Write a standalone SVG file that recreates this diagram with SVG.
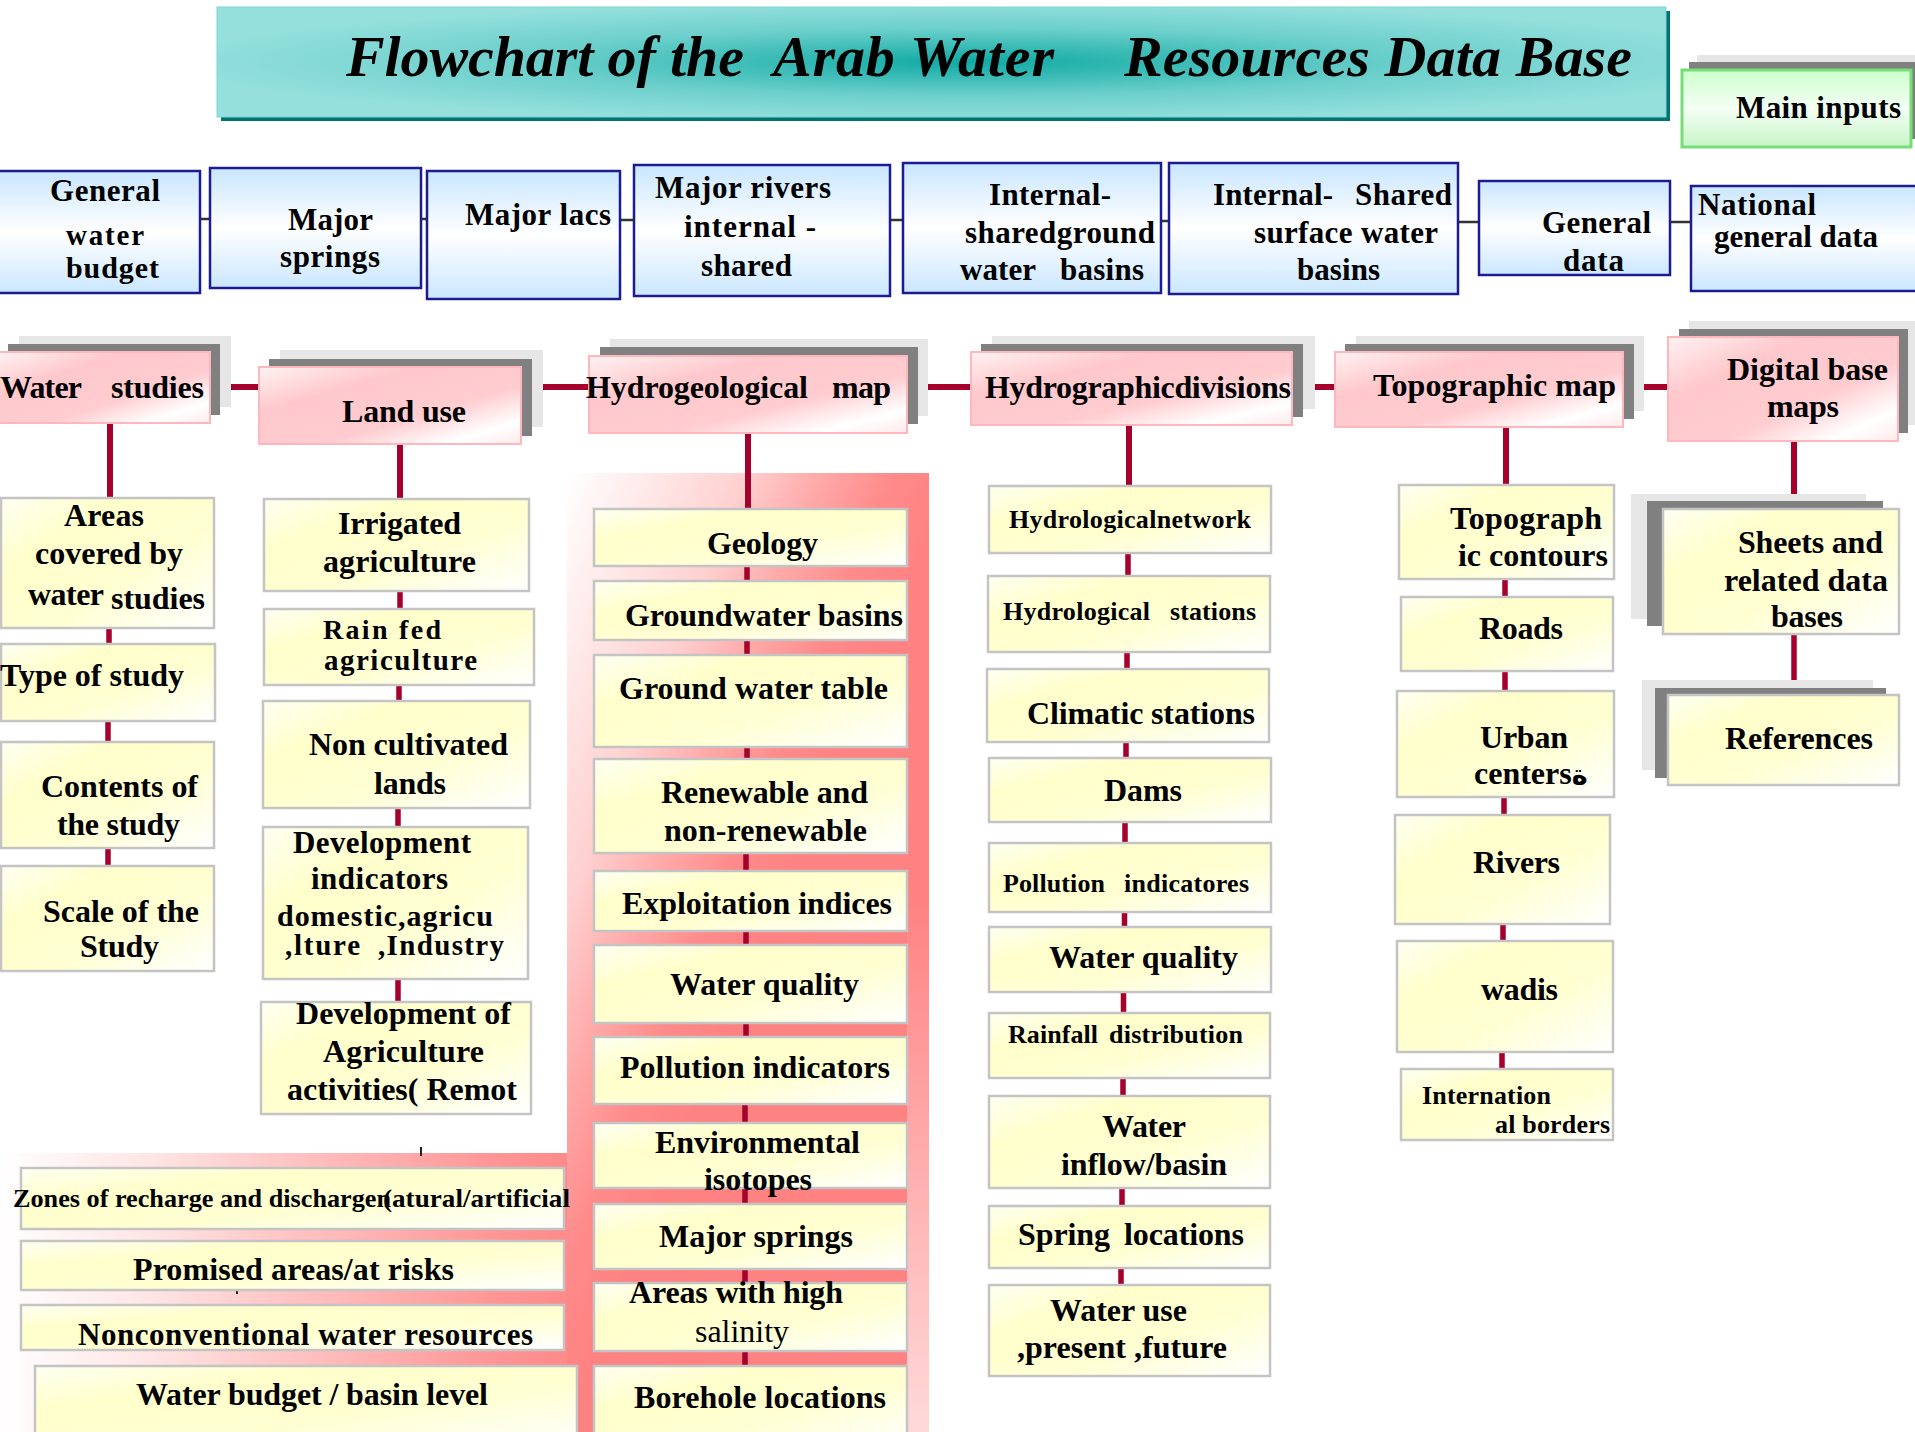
<svg xmlns="http://www.w3.org/2000/svg" width="1915" height="1432" viewBox="0 0 1915 1432">
<defs>
<radialGradient id="gTitle" cx="0.52" cy="0.5" r="0.55">
<stop offset="0" stop-color="#10aaa4"/><stop offset="0.55" stop-color="#6ccfcb"/><stop offset="1" stop-color="#95e0dd"/>
</radialGradient>
<linearGradient id="gBlue" x1="0" y1="0" x2="0" y2="1">
<stop offset="0" stop-color="#c9e6ff"/><stop offset="0.5" stop-color="#ffffff"/><stop offset="1" stop-color="#cbe7ff"/>
</linearGradient>
<linearGradient id="gGreen" x1="0" y1="0" x2="0" y2="1">
<stop offset="0" stop-color="#ccffcc"/><stop offset="0.5" stop-color="#f4fff4"/><stop offset="1" stop-color="#c8f5c8"/>
</linearGradient>
<linearGradient id="gPink" x1="0" y1="0" x2="1" y2="1">
<stop offset="0" stop-color="#fff2f3"/><stop offset="0.3" stop-color="#ffc8cc"/><stop offset="0.62" stop-color="#ffccd0"/><stop offset="0.85" stop-color="#ffffff"/><stop offset="1" stop-color="#ffeaec"/>
</linearGradient>
<linearGradient id="gYel" x1="0" y1="0" x2="1" y2="1">
<stop offset="0" stop-color="#fffff2"/><stop offset="0.28" stop-color="#ffffcc"/><stop offset="0.6" stop-color="#ffffd2"/><stop offset="1" stop-color="#ffffff"/>
</linearGradient>
<linearGradient id="gRegion" gradientUnits="userSpaceOnUse" x1="567" y1="473" x2="900" y2="610">
<stop offset="0" stop-color="#ffffff"/><stop offset="0.46" stop-color="#ffd0d0"/><stop offset="0.66" stop-color="#ffa8a8"/><stop offset="0.84" stop-color="#ff8a8a"/><stop offset="1" stop-color="#ff8282"/>
</linearGradient>
<linearGradient id="gBand" gradientUnits="userSpaceOnUse" x1="0" y1="0" x2="567" y2="0">
<stop offset="0" stop-color="#ffffff"/><stop offset="0.27" stop-color="#ffe4e4"/><stop offset="0.54" stop-color="#ffc0c0"/><stop offset="0.88" stop-color="#ff9494"/><stop offset="1" stop-color="#ff8a8a"/>
</linearGradient>
<linearGradient id="gFade" x1="0" y1="0" x2="0" y2="1">
<stop offset="0" stop-color="#ffffff" stop-opacity="0"/><stop offset="1" stop-color="#ffffff" stop-opacity="0.7"/>
</linearGradient>
</defs>
<style>
.lbl{font-family:"Liberation Serif","Times New Roman",serif;font-weight:bold;fill:#000;}
.reg{font-weight:normal;}
.ttl{font-family:"Liberation Serif","Times New Roman",serif;font-weight:bold;font-style:italic;font-size:58px;fill:#000;}
.blue{fill:url(#gBlue);stroke:#1c1c8e;stroke-width:2.5;}
.pink{fill:url(#gPink);stroke:#ffb6bc;stroke-width:2;}
.yel{fill:url(#gYel);stroke:#c4c4c4;stroke-width:2.5;}
.sd{fill:#808080;}
.sl{fill:#e6e6e6;}
.red{stroke:#a6002c;stroke-width:6;fill:none;}
.red2{stroke:#a6002c;stroke-width:5.5;fill:none;}
.gry{stroke:#333333;stroke-width:2.5;fill:none;}
.stub{stroke:#222222;stroke-width:2;fill:none;}
</style>
<rect x="0" y="0" width="1915" height="1432" fill="#ffffff"/>

<g id="title">
<rect x="221" y="11" width="1449" height="110" fill="#007373"/>
<rect x="217" y="7" width="1449" height="110" fill="url(#gTitle)" stroke="#7fd6d3" stroke-width="1"/>
<text class="ttl" x="346" y="76" textLength="398">Flowchart of the</text>
<text class="ttl" x="773" y="76" textLength="281">Arab Water</text>
<text class="ttl" x="1124" y="76" textLength="508">Resources Data Base</text>
</g>

<g id="background-regions">
<rect x="567" y="473" width="362" height="959" fill="url(#gRegion)"/>
<rect x="907" y="900" width="22" height="532" fill="url(#gFade)"/>
<rect x="0" y="1153" width="567" height="279" fill="url(#gBand)"/>
</g>

<g id="connectors">
<path class="gry" d="M200 219H210M421 219H427M620 220H634M890 220H903M1161 221H1169M1457 222H1479"/>
<path class="gry" d="M1670 222H1691" stroke="#111" stroke-width="3"/>
<path class="red" d="M231 387H259M543 387H589M928 387H971M1315 387H1335M1644 387H1668"/>
<path class="red" d="M110 423V498M400 444V499M748 433V509M1129 425V486M1506 427V485M1794 441V494"/>
<path class="red2" d="M109 628V644M108 721V742M108 848V866"/>
<path class="red2" d="M400 591V609M399 685V701M398 808V827M398 979V1002"/>
<path class="red2" d="M747 566V581M747 640V655M747 747V759M746 853V871M746 931V945M746 1023V1037M745 1104V1123M745 1188V1204M745 1269V1283M745 1351V1366"/>
<path class="red2" d="M1128 553V576M1127 652V669M1126 742V758M1125 822V843M1124.5 912V927M1123.5 992V1013M1123 1078V1096M1122 1188V1206M1121 1268V1285"/>
<path class="red2" d="M1505 579V597M1505 671V691M1504 797V815M1503 924V941M1502 1052V1069"/>
<path class="red2" d="M1794 634V680"/>
<path class="stub" d="M421 1147V1156M237 1289V1294M92 1337H101"/>
</g>

<g id="main-inputs">
<rect class="sl" x="1697" y="55" width="230" height="77"/>
<rect class="sd" x="1689" y="62" width="230" height="77"/>
<rect x="1682" y="70" width="229" height="77" fill="url(#gGreen)" stroke="#77dd77" stroke-width="3"/>
<text class="lbl" x="1736" y="118" font-size="31" textLength="165">Main inputs</text>
</g>

<g id="general-water-budget">
<rect class="blue" x="-3" y="171" width="203" height="122"/>
<text class="lbl" x="50" y="201" font-size="31" textLength="110">General</text>
<text class="lbl" x="66" y="245" font-size="29" textLength="78">water</text>
<text class="lbl" x="66" y="278" font-size="30" textLength="93">budget</text>
</g>
<g id="major-springs-top">
<rect class="blue" x="210" y="168" width="211" height="120"/>
<text class="lbl" x="288" y="230" font-size="31" textLength="85">Major</text>
<text class="lbl" x="280" y="267" font-size="31" textLength="100">springs</text>
</g>
<g id="major-lacs">
<rect class="blue" x="427" y="171" width="193" height="128"/>
<text class="lbl" x="465" y="225" font-size="31" textLength="146">Major lacs</text>
</g>
<g id="major-rivers">
<rect class="blue" x="634" y="165" width="256" height="131"/>
<text class="lbl" x="655" y="198" font-size="31" textLength="176">Major rivers</text>
<text class="lbl" x="684" y="237" font-size="31" textLength="132">internal -</text>
<text class="lbl" x="701" y="276" font-size="31" textLength="91">shared</text>
</g>
<g id="internal-shared-ground">
<rect class="blue" x="903" y="163" width="258" height="130"/>
<text class="lbl" x="989" y="205" font-size="31" textLength="122">Internal-</text>
<text class="lbl" x="965" y="243" font-size="31" textLength="190">sharedground</text>
<text class="lbl" x="960" y="280" font-size="31" textLength="76">water</text>
<text class="lbl" x="1060" y="280" font-size="31" textLength="84">basins</text>
</g>
<g id="internal-shared-surface">
<rect class="blue" x="1169" y="163" width="289" height="131"/>
<text class="lbl" x="1213" y="205" font-size="31" textLength="120">Internal-</text>
<text class="lbl" x="1355" y="205" font-size="31" textLength="97">Shared</text>
<text class="lbl" x="1254" y="243" font-size="31" textLength="184">surface water</text>
<text class="lbl" x="1297" y="280" font-size="31" textLength="83">basins</text>
</g>
<g id="general-data">
<rect class="blue" x="1479" y="181" width="191" height="94"/>
<text class="lbl" x="1542" y="233" font-size="31" textLength="109">General</text>
<text class="lbl" x="1563" y="271" font-size="31" textLength="61">data</text>
</g>
<g id="national-general-data">
<rect class="blue" x="1691" y="186" width="232" height="105" stroke="#222222"/>
<text class="lbl" x="1698" y="215" font-size="31" textLength="118">National</text>
<text class="lbl" x="1714" y="247" font-size="31" textLength="164">general data</text>
</g>

<g id="water-studies">
<rect class="sl" x="19" y="336" width="212" height="71"/>
<rect class="sd" x="8" y="344" width="212" height="71"/>
<rect class="pink" x="-2" y="352" width="212" height="71"/>
<text class="lbl" x="0" y="398" font-size="32" textLength="82">Water</text>
<text class="lbl" x="111" y="398" font-size="32" textLength="93">studies</text>
</g>
<g id="land-use">
<rect class="sl" x="280" y="350" width="263" height="77"/>
<rect class="sd" x="269" y="359" width="263" height="77"/>
<rect class="pink" x="259" y="367" width="262" height="77"/>
<text class="lbl" x="342" y="422" font-size="32" textLength="124">Land use</text>
</g>
<g id="hydrogeological-map">
<rect class="sl" x="610" y="339" width="318" height="77"/>
<rect class="sd" x="600" y="347" width="318" height="77"/>
<rect class="pink" x="589" y="356" width="318" height="77"/>
<text class="lbl" x="586" y="398" font-size="32" textLength="222">Hydrogeological</text>
<text class="lbl" x="832" y="398" font-size="32" textLength="59">map</text>
</g>
<g id="hydrographic-divisions">
<rect class="sl" x="992" y="336" width="323" height="73"/>
<rect class="sd" x="981" y="344" width="322" height="73"/>
<rect class="pink" x="971" y="352" width="321" height="73"/>
<text class="lbl" x="985" y="398" font-size="32" textLength="306">Hydrographicdivisions</text>
</g>
<g id="topographic-map">
<rect class="sl" x="1356" y="336" width="288" height="75"/>
<rect class="sd" x="1345" y="344" width="289" height="75"/>
<rect class="pink" x="1335" y="352" width="288" height="75"/>
<text class="lbl" x="1373" y="396" font-size="32" textLength="243">Topographic map</text>
</g>
<g id="digital-base-maps">
<rect class="sl" x="1689" y="321" width="232" height="104"/>
<rect class="sd" x="1679" y="329" width="229" height="104"/>
<rect class="pink" x="1668" y="337" width="230" height="104"/>
<text class="lbl" x="1727" y="380" font-size="32" textLength="161">Digital base</text>
<text class="lbl" x="1767" y="417" font-size="32" textLength="72">maps</text>
</g>

<g id="areas-covered">
<rect class="yel" x="1" y="498" width="213" height="130"/>
<text class="lbl" x="64" y="526" font-size="32" textLength="80">Areas</text>
<text class="lbl" x="35" y="564" font-size="32" textLength="148">covered by</text>
<text class="lbl" x="28" y="605" font-size="32" textLength="76">water</text>
<text class="lbl" x="111" y="609" font-size="32" textLength="94">studies</text>
</g>
<g id="type-of-study">
<rect class="yel" x="1" y="644" width="214" height="77"/>
<text class="lbl" x="0" y="686" font-size="32" textLength="184">Type of study</text>
</g>
<g id="contents-of-study">
<rect class="yel" x="1" y="742" width="213" height="106"/>
<text class="lbl" x="41" y="797" font-size="32" textLength="157">Contents of</text>
<text class="lbl" x="57" y="835" font-size="32" textLength="123">the study</text>
</g>
<g id="scale-of-study">
<rect class="yel" x="1" y="866" width="213" height="105"/>
<text class="lbl" x="43" y="922" font-size="32" textLength="156">Scale of the</text>
<text class="lbl" x="80" y="957" font-size="32" textLength="79">Study</text>
</g>

<g id="irrigated">
<rect class="yel" x="264" y="499" width="265" height="92"/>
<text class="lbl" x="338" y="534" font-size="32" textLength="123">Irrigated</text>
<text class="lbl" x="323" y="572" font-size="32" textLength="153">agriculture</text>
</g>
<g id="rain-fed">
<rect class="yel" x="264" y="609" width="270" height="76"/>
<text class="lbl" x="323" y="639" font-size="28" textLength="118">Rain fed</text>
<text class="lbl" x="324" y="670" font-size="29" textLength="153">agriculture</text>
</g>
<g id="non-cultivated">
<rect class="yel" x="263" y="701" width="267" height="107"/>
<text class="lbl" x="309" y="755" font-size="32" textLength="199">Non cultivated</text>
<text class="lbl" x="374" y="794" font-size="32" textLength="72">lands</text>
</g>
<g id="development-indicators">
<rect class="yel" x="263" y="827" width="265" height="152"/>
<text class="lbl" x="293" y="853" font-size="31" textLength="178">Development</text>
<text class="lbl" x="311" y="889" font-size="31" textLength="137">indicators</text>
<text class="lbl" x="277" y="926" font-size="30" textLength="216">domestic,agricu</text>
<text class="lbl" x="285" y="955" font-size="29" textLength="75">,lture</text>
<text class="lbl" x="378" y="955" font-size="29" textLength="126">,Industry</text>
</g>
<g id="development-agriculture">
<rect class="yel" x="261" y="1002" width="270" height="112"/>
<text class="lbl" x="296" y="1024" font-size="32" textLength="215">Development of</text>
<text class="lbl" x="323" y="1062" font-size="32" textLength="161">Agriculture</text>
<text class="lbl" x="287" y="1100" font-size="32" textLength="230">activities( Remot</text>
</g>

<g id="geology">
<rect class="yel" x="594" y="509" width="313" height="57"/>
<text class="lbl" x="707" y="554" font-size="32" textLength="111">Geology</text>
</g>
<g id="groundwater-basins">
<rect class="yel" x="594" y="581" width="313" height="59"/>
<text class="lbl" x="625" y="626" font-size="32" textLength="278">Groundwater basins</text>
</g>
<g id="ground-water-table">
<rect class="yel" x="594" y="655" width="313" height="92"/>
<text class="lbl" x="619" y="699" font-size="32" textLength="269">Ground water table</text>
</g>
<g id="renewable">
<rect class="yel" x="594" y="759" width="313" height="94"/>
<text class="lbl" x="661" y="803" font-size="32" textLength="207">Renewable and</text>
<text class="lbl" x="664" y="841" font-size="32" textLength="203">non-renewable</text>
</g>
<g id="exploitation-indices">
<rect class="yel" x="594" y="871" width="313" height="60"/>
<text class="lbl" x="622" y="914" font-size="32" textLength="270">Exploitation indices</text>
</g>
<g id="water-quality-hg">
<rect class="yel" x="594" y="945" width="313" height="78"/>
<text class="lbl" x="670" y="995" font-size="32" textLength="189">Water quality</text>
</g>
<g id="pollution-indicators-hg">
<rect class="yel" x="594" y="1037" width="313" height="67"/>
<text class="lbl" x="620" y="1078" font-size="32" textLength="270">Pollution indicators</text>
</g>
<g id="environmental-isotopes">
<rect class="yel" x="594" y="1123" width="313" height="65"/>
<text class="lbl" x="655" y="1153" font-size="32" textLength="205">Environmental</text>
<text class="lbl" x="704" y="1190" font-size="32" textLength="108">isotopes</text>
</g>
<g id="major-springs-hg">
<rect class="yel" x="594" y="1204" width="313" height="65"/>
<text class="lbl" x="659" y="1247" font-size="32" textLength="194">Major springs</text>
</g>
<g id="areas-high-salinity">
<rect class="yel" x="594" y="1283" width="313" height="68"/>
<text class="lbl" x="629" y="1303" font-size="32" textLength="214">Areas with high</text>
<text class="lbl reg" x="695" y="1342" font-size="32" textLength="94">salinity</text>
</g>
<g id="borehole-locations">
<rect class="yel" x="594" y="1366" width="313" height="80"/>
<text class="lbl" x="634" y="1408" font-size="32" textLength="252">Borehole locations</text>
</g>

<g id="hydrological-network">
<rect class="yel" x="989" y="486" width="282" height="67"/>
<text class="lbl" x="1009" y="528" font-size="26" textLength="242">Hydrologicalnetwork</text>
</g>
<g id="hydrological-stations">
<rect class="yel" x="988" y="576" width="282" height="76"/>
<text class="lbl" x="1003" y="620" font-size="26" textLength="147">Hydrological</text>
<text class="lbl" x="1170" y="620" font-size="26" textLength="86">stations</text>
</g>
<g id="climatic-stations">
<rect class="yel" x="987" y="669" width="282" height="73"/>
<text class="lbl" x="1027" y="724" font-size="32" textLength="228">Climatic stations</text>
</g>
<g id="dams">
<rect class="yel" x="989" y="758" width="282" height="64"/>
<text class="lbl" x="1104" y="801" font-size="32" textLength="78">Dams</text>
</g>
<g id="pollution-indicatores">
<rect class="yel" x="989" y="843" width="282" height="69"/>
<text class="lbl" x="1003" y="892" font-size="26" textLength="102">Pollution</text>
<text class="lbl" x="1124" y="892" font-size="26" textLength="125">indicatores</text>
</g>
<g id="water-quality-hd">
<rect class="yel" x="989" y="927" width="282" height="65"/>
<text class="lbl" x="1049" y="968" font-size="32" textLength="189">Water quality</text>
</g>
<g id="rainfall-distribution">
<rect class="yel" x="989" y="1013" width="281" height="65"/>
<text class="lbl" x="1008" y="1043" font-size="26" textLength="90">Rainfall</text>
<text class="lbl" x="1109" y="1043" font-size="26" textLength="134">distribution</text>
</g>
<g id="water-inflow">
<rect class="yel" x="989" y="1096" width="281" height="92"/>
<text class="lbl" x="1102" y="1137" font-size="32" textLength="84">Water</text>
<text class="lbl" x="1061" y="1175" font-size="32" textLength="166">inflow/basin</text>
</g>
<g id="spring-locations">
<rect class="yel" x="989" y="1206" width="281" height="62"/>
<text class="lbl" x="1018" y="1245" font-size="32" textLength="92">Spring</text>
<text class="lbl" x="1124" y="1245" font-size="32" textLength="120">locations</text>
</g>
<g id="water-use">
<rect class="yel" x="989" y="1285" width="281" height="91"/>
<text class="lbl" x="1050" y="1321" font-size="32" textLength="137">Water use</text>
<text class="lbl" x="1017" y="1358" font-size="32" textLength="210">,present ,future</text>
</g>

<g id="topographic-contours">
<rect class="yel" x="1399" y="485" width="215" height="94"/>
<text class="lbl" x="1450" y="529" font-size="32" textLength="152">Topograph</text>
<text class="lbl" x="1458" y="566" font-size="32" textLength="150">ic contours</text>
</g>
<g id="roads">
<rect class="yel" x="1401" y="597" width="212" height="74"/>
<text class="lbl" x="1479" y="639" font-size="32" textLength="84">Roads</text>
</g>
<g id="urban-centers">
<rect class="yel" x="1397" y="691" width="217" height="106"/>
<text class="lbl" x="1480" y="748" font-size="32" textLength="88">Urban</text>
<text class="lbl" x="1474" y="784" font-size="32">centers<tspan font-family="'DejaVu Sans','Noto Sans',sans-serif" font-size="27">ة</tspan></text>
</g>
<g id="rivers">
<rect class="yel" x="1395" y="815" width="215" height="109"/>
<text class="lbl" x="1473" y="873" font-size="32" textLength="87">Rivers</text>
</g>
<g id="wadis">
<rect class="yel" x="1397" y="941" width="216" height="111"/>
<text class="lbl" x="1481" y="1000" font-size="32" textLength="77">wadis</text>
</g>
<g id="international-borders">
<rect class="yel" x="1401" y="1069" width="212" height="71"/>
<text class="lbl" x="1422" y="1104" font-size="26" textLength="129">Internation</text>
<text class="lbl" x="1495" y="1133" font-size="26" textLength="115">al borders</text>
</g>

<g id="sheets-related">
<rect class="sl" x="1631" y="494" width="235" height="125"/>
<rect class="sd" x="1647" y="501" width="236" height="125"/>
<rect class="yel" x="1663" y="509" width="236" height="125"/>
<text class="lbl" x="1738" y="553" font-size="32" textLength="145">Sheets and</text>
<text class="lbl" x="1724" y="591" font-size="32" textLength="164">related data</text>
<text class="lbl" x="1771" y="627" font-size="32" textLength="72">bases</text>
</g>
<g id="references">
<rect class="sl" x="1642" y="680" width="231" height="90"/>
<rect class="sd" x="1655" y="688" width="231" height="90"/>
<rect class="yel" x="1668" y="695" width="231" height="90"/>
<text class="lbl" x="1725" y="749" font-size="32" textLength="148">References</text>
</g>

<g id="zones-recharge">
<rect class="yel" x="21" y="1168" width="543" height="61"/>
<text class="lbl" x="13" y="1207" font-size="26" textLength="378" lengthAdjust="spacingAndGlyphs">Zones of recharge and dischargen</text>
<text class="lbl" x="383" y="1207" font-size="26" textLength="187" lengthAdjust="spacingAndGlyphs">(atural/artificial</text>
</g>
<g id="promised-areas">
<rect class="yel" x="21" y="1241" width="543" height="49"/>
<text class="lbl" x="133" y="1280" font-size="32" textLength="321">Promised areas/at risks</text>
</g>
<g id="nonconventional">
<rect class="yel" x="21" y="1305" width="543" height="45"/>
<text class="lbl" x="78" y="1345" font-size="31" textLength="455">Nonconventional water resources</text>
</g>
<g id="water-budget-basin">
<rect class="yel" x="35" y="1366" width="542" height="80"/>
<text class="lbl" x="136" y="1405" font-size="32" textLength="352">Water budget / basin level</text>
</g>
</svg>
